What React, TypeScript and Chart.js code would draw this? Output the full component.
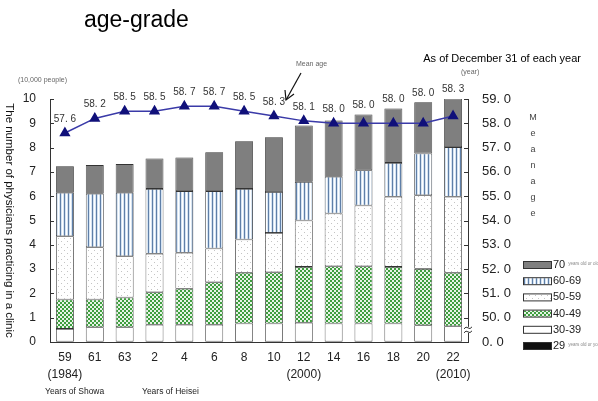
import React, { useEffect, useRef } from "react";
import { Chart, registerables } from "chart.js";

Chart.register(...registerables);

const yearLabels: string[][] = [
  ["59", "(1984)"], ["61"], ["63"], ["2"], ["4"], ["6"], ["8"], ["10"],
  ["12", "(2000)"], ["14"], ["16"], ["18"], ["20"], ["22", "(2010)"],
];

// units: 10,000 people
const age29Under = [0.02, 0.02, 0.02, 0.02, 0.02, 0.02, 0.02, 0.02, 0.02, 0.02, 0.02, 0.02, 0.02, 0.02];
const age30to39 = [0.52, 0.59, 0.59, 0.69, 0.69, 0.69, 0.74, 0.74, 0.77, 0.74, 0.74, 0.74, 0.67, 0.63];
const age40to49 = [1.21, 1.14, 1.22, 1.34, 1.48, 1.75, 2.09, 2.11, 2.30, 2.36, 2.36, 2.33, 2.32, 2.20];
const age50to59 = [2.60, 2.15, 1.70, 1.58, 1.48, 1.39, 1.37, 1.62, 1.91, 2.17, 2.50, 2.89, 3.03, 3.13];
const age60to69 = [1.79, 2.20, 2.61, 2.67, 2.54, 2.36, 2.08, 1.68, 1.59, 1.51, 1.45, 1.39, 1.72, 2.04];
const age70Over = [1.09, 1.18, 1.18, 1.25, 1.38, 1.60, 1.96, 2.26, 2.32, 2.32, 2.29, 2.24, 2.11, 2.00];

const meanAge = [57.6, 58.2, 58.5, 58.5, 58.7, 58.7, 58.5, 58.3, 58.1, 58.0, 58.0, 58.0, 58.0, 58.3];

// right axis is broken: 0.0 at bottom, then 50.0 .. 59.0
const rightAxisBase = 49;

const FONT = "'Liberation Sans', Arial, sans-serif";

function makePattern(kind: string): CanvasPattern | string {
  const c = document.createElement("canvas");
  const ctx = c.getContext("2d")!;
  if (kind === "stripes") {
    c.width = 4; c.height = 4;
    const cols = ["#5f7fa8", "#d6e4f2", "#ffffff", "#d6e4f2"];
    cols.forEach((col, i) => { ctx.fillStyle = col; ctx.fillRect(i, 0, 1, 4); });
  } else if (kind === "dots") {
    c.width = 6; c.height = 6;
    ctx.fillStyle = "#ffffff"; ctx.fillRect(0, 0, 6, 6);
    ctx.fillStyle = "#c4c4c4"; ctx.fillRect(1, 1, 1, 1); ctx.fillRect(4, 4, 1, 1);
  } else if (kind === "checker") {
    c.width = 4; c.height = 4;
    ctx.fillStyle = "#3e9e3e"; ctx.fillRect(0, 0, 4, 4);
    ctx.fillStyle = "#e6f4e6"; ctx.fillRect(0, 0, 2, 2); ctx.fillRect(2, 2, 2, 2);
  }
  const p = ctx.createPattern(c, "repeat");
  return p || "#ffffff";
}

export default function App() {
  const ref = useRef<HTMLCanvasElement | null>(null);

  useEffect(() => {
    const canvas = ref.current;
    if (!canvas) return;
    const stripes = makePattern("stripes");
    const dots = makePattern("dots");
    const checker = makePattern("checker");

    const seriesDefs = [
      { label: "29", data: age29Under, bg: "#111111", small: "years old or younger" },
      { label: "30-39", data: age30to39, bg: "#ffffff", small: "" },
      { label: "40-49", data: age40to49, bg: checker, small: "" },
      { label: "50-59", data: age50to59, bg: dots, small: "" },
      { label: "60-69", data: age60to69, bg: stripes, small: "" },
      { label: "70", data: age70Over, bg: "#7f7f7f", small: "years old or older" },
    ];

    const decor = {
      id: "decor",
      afterDatasetsDraw(chart: any) {
        const { ctx, scales } = chart;
        const y = scales.y, y1 = scales.y1;
        ctx.save();
        ctx.strokeStyle = "#333";
        ctx.lineWidth = 1;
        // inward tick marks
        for (let v = 0; v <= 10; v++) {
          const py = Math.round(y.getPixelForValue(v)) + 0.5;
          ctx.beginPath(); ctx.moveTo(y.right, py); ctx.lineTo(y.right + 4, py); ctx.stroke();
          const py1 = Math.round(y1.getPixelForValue(v)) + 0.5;
          ctx.beginPath(); ctx.moveTo(y1.left, py1); ctx.lineTo(y1.left - 4, py1); ctx.stroke();
        }
        // axis break mark on right axis
        const by = (y1.getPixelForValue(0) + y1.getPixelForValue(1)) / 2;
        ctx.fillStyle = "#fff";
        ctx.fillRect(y1.left - 4, by - 3, 8, 6);
        ctx.beginPath();
        for (const off of [-2, 2]) {
          ctx.moveTo(y1.left - 4, by + off + 1);
          ctx.quadraticCurveTo(y1.left - 2, by + off - 2, y1.left, by + off);
          ctx.quadraticCurveTo(y1.left + 2, by + off + 2, y1.left + 4, by + off - 1);
        }
        ctx.stroke();

        // mean age value labels (kept clear of the bar tops)
        const nDs = chart.data.datasets.length;
        const meta = chart.getDatasetMeta(nDs - 1);
        const topBars = chart.getDatasetMeta(nDs - 2);
        ctx.fillStyle = "#333";
        ctx.font = `10px ${FONT}`;
        ctx.textAlign = "center";
        ctx.textBaseline = "middle";
        meta.data.forEach((pt: any, i: number) => {
          const txt = meanAge[i].toFixed(1).replace(".", ". ");
          const barTop = topBars.data[i].y;
          const ly = Math.min(pt.y - 14, barTop - 9);
          ctx.fillText(txt, pt.x, ly);
        });

        // title
        ctx.fillStyle = "#000";
        ctx.textAlign = "left";
        ctx.textBaseline = "alphabetic";
        ctx.font = `23px ${FONT}`;
        ctx.fillText("age-grade", 84, 27);
        ctx.font = `11px ${FONT}`;
        ctx.textAlign = "right";
        ctx.fillText("As of December 31 of each year", 581, 62);
        ctx.fillStyle = "#666";
        ctx.font = `7px ${FONT}`;
        ctx.textAlign = "left";
        ctx.fillText("(year)", 461, 74);
        ctx.fillText("(10,000 people)", 18, 82);
        ctx.fillText("Mean age", 296, 66);
        // arrow
        ctx.strokeStyle = "#111";
        ctx.lineWidth = 1.2;
        ctx.beginPath(); ctx.moveTo(301, 73); ctx.lineTo(286, 100); ctx.stroke();
        ctx.beginPath(); ctx.moveTo(285, 90); ctx.lineTo(286, 100); ctx.lineTo(294, 94); ctx.stroke();

        // left axis title, rotated clockwise
        ctx.save();
        ctx.fillStyle = "#111";
        ctx.font = `11.5px ${FONT}`;
        ctx.translate(9, (y.top + y.bottom) / 2);
        ctx.rotate(Math.PI / 2);
        ctx.textAlign = "center";
        ctx.textBaseline = "middle";
        ctx.fillText("The number of physicians practicing in a clinic", 0, 0);
        ctx.restore();

        // right axis title, stacked letters
        ctx.fillStyle = "#444";
        ctx.font = `9px ${FONT}`;
        ctx.textAlign = "center";
        ctx.textBaseline = "middle";
        "Meanage".split("").forEach((ch, i) => ctx.fillText(ch, 533, 118 + i * 16));

        // era notes
        ctx.fillStyle = "#222";
        ctx.font = `8.5px ${FONT}`;
        ctx.textAlign = "left";
        ctx.fillText("Years of Showa", 45, 392);
        ctx.fillText("Years of Heisei", 142, 392);

        // legend
        const rows = [...seriesDefs].reverse();
        rows.forEach((s, i) => {
          const ry = 265 + i * 16.2;
          ctx.fillStyle = s.bg as any;
          ctx.fillRect(523, ry - 3, 28, 6);
          ctx.strokeStyle = "#333";
          ctx.lineWidth = 1;
          ctx.strokeRect(523.5, ry - 3.5, 28, 7);
          ctx.fillStyle = "#222";
          ctx.font = `11px ${FONT}`;
          ctx.textAlign = "left";
          ctx.textBaseline = "middle";
          ctx.fillText(s.label, 553, ry);
          if (s.small) {
            const w = ctx.measureText(s.label).width;
            ctx.fillStyle = "#888";
            ctx.font = `4.5px ${FONT}`;
            ctx.fillText(s.small, 553 + w + 3, ry - 1);
          }
        });
        ctx.restore();
      },
    };

    const chart = new Chart(canvas, {
      data: {
        labels: yearLabels,
        datasets: [
          ...seriesDefs.map((s) => ({
            type: "bar" as const,
            label: s.label,
            data: s.data,
            backgroundColor: s.bg as any,
            borderColor: "#333",
            borderWidth: 0.8,
            borderSkipped: false as any,
            yAxisID: "y",
            order: 2,
            categoryPercentage: 1,
            barPercentage: 0.6,
          })),
          {
            type: "line" as const,
            label: "Mean age",
            data: meanAge.map((a) => a - rightAxisBase),
            yAxisID: "y1",
            borderColor: "#3a3aa8",
            borderWidth: 1.5,
            pointStyle: "triangle",
            pointRadius: 5,
            pointBackgroundColor: "#10107a",
            pointBorderColor: "#10107a",
            order: 0,
            tension: 0,
          } as any,
        ],
      },
      options: {
        responsive: false,
        animation: false,
        layout: { padding: { top: 99, left: 0, right: 0, bottom: 0 } },
        plugins: { legend: { display: false }, tooltip: { enabled: false } },
        scales: {
          x: {
            stacked: true,
            offset: true,
            grid: { display: false, drawTicks: false },
            border: { display: true, color: "#333" },
            ticks: { color: "#222", font: { size: 12, family: FONT, lineHeight: 1.35 }, padding: 8, maxRotation: 0, autoSkip: false },
            afterFit: (s: any) => { s.height = 59; },
          },
          y: {
            stacked: true,
            position: "left",
            min: 0,
            max: 10,
            grid: { display: false, drawTicks: false },
            border: { display: true, color: "#333" },
            ticks: { stepSize: 1, color: "#222", font: { size: 12, family: FONT }, padding: 14 },
            afterFit: (s: any) => { s.width = 50; },
          },
          y1: {
            position: "right",
            min: 0,
            max: 10,
            grid: { display: false, drawTicks: false },
            border: { display: true, color: "#333" },
            ticks: {
              stepSize: 1,
              color: "#222",
              font: { size: 13, family: FONT },
              padding: 14,
              callback: (v: any) => (v === 0 ? "0.0" : (Number(v) + rightAxisBase).toFixed(1)).replace(".", ". "),
            },
            afterFit: (s: any) => { s.width = 130; },
          },
        },
      },
      plugins: [decor],
    });
    return () => chart.destroy();
  }, []);

  return (
    <div style={{ position: "fixed", left: 0, top: 0, width: 598, height: 401, background: "#fff" }}>
      <canvas ref={ref} width={598} height={401} style={{ display: "block" }} />
    </div>
  );
}
